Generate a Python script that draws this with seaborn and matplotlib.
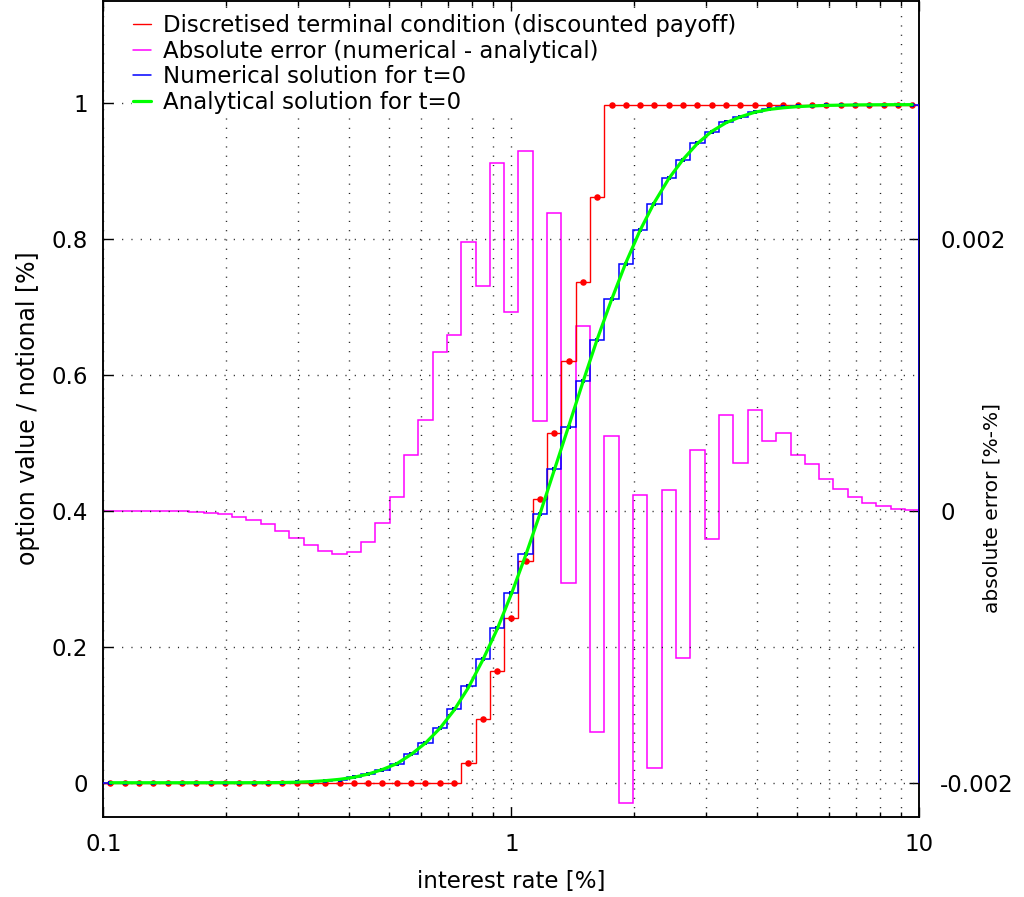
import matplotlib
matplotlib.use("Agg")
import numpy as np
import matplotlib.pyplot as plt
import matplotlib.ticker as mticker
import seaborn as sns

# grid of interest rates [%] (cell centres, log spaced)
rate = [0.1041, 0.1129, 0.1224, 0.1327, 0.1438, 0.1559, 0.1691, 0.1833, 0.1987, 0.2154,
        0.2336, 0.2532, 0.2745, 0.2976, 0.3227, 0.3498, 0.3793, 0.4112, 0.4458, 0.4833,
        0.5240, 0.5680, 0.6158, 0.6677, 0.7238, 0.7848, 0.8508, 0.9224, 1.0, 1.084,
        1.175, 1.274, 1.382, 1.498, 1.624, 1.760, 1.909, 2.069, 2.243, 2.432,
        2.637, 2.859, 3.099, 3.360, 3.643, 3.949, 4.282, 4.642, 5.033, 5.456,
        5.915, 6.413, 6.953, 7.538, 8.172, 8.860, 9.604]

# discretised terminal condition (discounted payoff)
payoff = [0.0] * 25 + [0.029, 0.094, 0.165, 0.242, 0.326, 0.417, 0.515, 0.621, 0.737, 0.862] + [0.9975] * 22

# numerical solution for t=0
numerical = [0.0] * 8 + [
    0.00001, 0.00002, 0.00005, 0.0001, 0.0002, 0.0006, 0.0014, 0.0027, 0.0047, 0.0077,
    0.0125, 0.0194, 0.028, 0.042, 0.059, 0.081, 0.108, 0.142, 0.182, 0.228,
    0.279, 0.337, 0.396, 0.462, 0.524, 0.591, 0.651, 0.711, 0.763, 0.813,
    0.852, 0.889, 0.916, 0.941, 0.958, 0.9716, 0.980, 0.987, 0.991, 0.9935,
    0.995, 0.996, 0.9966, 0.997, 0.9972, 0.9973, 0.9974, 0.9975, 0.9975]

# analytical solution for t=0
analytical = [0.0] * 8 + [
    0.00001, 0.00003, 0.00006, 0.0001, 0.0003, 0.0008, 0.0016, 0.003, 0.005, 0.008,
    0.0127, 0.0195, 0.028, 0.0416, 0.0583, 0.0798, 0.1067, 0.140, 0.1803, 0.2254,
    0.2775, 0.3344, 0.3953, 0.4598, 0.5245, 0.5896, 0.6526, 0.7105, 0.7651, 0.8129,
    0.8539, 0.8888, 0.9171, 0.9405, 0.9582, 0.9709, 0.9796, 0.9863, 0.9905, 0.9929,
    0.9946, 0.9956, 0.9964, 0.9968, 0.9971, 0.9973, 0.9974, 0.9975, 0.9975]

# absolute error (numerical - analytical) [%-%]
abs_error = [0.0, -0.000001, -0.000001, -0.000002, -0.000003, -0.000005, -0.00001, -0.000018,
             -0.000027, -0.000044, -0.000069, -0.0001, -0.000145, -0.000197, -0.00025, -0.000292,
             -0.000317, -0.0003, -0.000231, -0.000091, 0.000098, 0.000412, 0.000667, 0.00117,
             0.00129, 0.00198, 0.00165, 0.00256, 0.00146, 0.00265, 0.00066, 0.00219,
             -0.000534, 0.00136, -0.00163, 0.000548, -0.00215, 0.000116, -0.00189, 0.000151,
             -0.00108, 0.00045, -0.00021, 0.000708, 0.000353, 0.000741, 0.00051, 0.000574,
             0.000407, 0.000348, 0.000233, 0.000164, 0.000103, 0.000061, 0.000032, 0.000015,
             0.000004]

sns.set_style("ticks")
plt.rcParams["font.family"] = ["DejaVu Sans"]
plt.rcParams["font.size"] = 16.5
plt.rcParams["axes.unicode_minus"] = False
for key in ("text.color", "axes.labelcolor", "xtick.color", "ytick.color", "axes.edgecolor"):
    plt.rcParams[key] = "black"

# histogram-step edges (gnuplot "histeps"): geometric midpoints between grid points
r = np.array(rate)
mids = np.sqrt(r[:-1] * r[1:])
edges = np.concatenate([[r[0] ** 2 / mids[0]], mids, [r[-1] ** 2 / mids[-1]]])

fig = plt.figure(figsize=(10.24, 8.97), dpi=100)
ax = fig.add_axes([0.1009, 0.0895, 0.7969, 0.9094])
ax2 = ax.twinx()
ax.set_zorder(2)
ax.patch.set_visible(False)
ax.set_axisbelow(True)

# error on the right axis
h_err = ax2.stairs(abs_error, edges, baseline=0, color="#ff00ff", lw=1.1,
                   label="Absolute error (numerical - analytical)")

# option values on the left axis
h_pay = ax.stairs(payoff, edges, baseline=0, color="#ff0000", lw=1.0,
                  label="Discretised terminal condition (discounted payoff)", zorder=3)
sns.scatterplot(x=rate, y=payoff, ax=ax, color="#ff0000", s=22, linewidth=0, zorder=3.5)
h_num = ax.stairs(numerical, edges, baseline=0, color="#0000ff", lw=1.1,
                  label="Numerical solution for t=0", zorder=4)
sns.scatterplot(x=rate, y=numerical, ax=ax, color="#0000cc", s=9, marker="s",
                linewidth=0, zorder=4.5)
sns.lineplot(x=rate, y=analytical, ax=ax, color="#00ff00", lw=2.3, sort=False,
             estimator=None, label="Analytical solution for t=0", zorder=5)

ax.set_xscale("log")
ax.set_xlim(0.1, 10)
ax.set_ylim(-0.05, 1.15)
ax2.set_ylim(-0.00225, 0.00375)

fmt = mticker.FuncFormatter(lambda v, _: f"{v:g}")
ax.xaxis.set_major_locator(mticker.LogLocator(base=10))
ax.xaxis.set_minor_locator(mticker.LogLocator(base=10, subs=np.arange(2, 10)))
ax.xaxis.set_major_formatter(fmt)
ax.xaxis.set_minor_formatter(mticker.NullFormatter())
ax.set_yticks([0, 0.2, 0.4, 0.6, 0.8, 1.0])
ax.yaxis.set_major_formatter(fmt)
ax2.set_yticks([-0.002, 0, 0.002])
ax2.yaxis.set_major_formatter(fmt)

ax.tick_params(axis="x", which="major", direction="in", length=7, width=1, top=True, pad=12)
ax.tick_params(axis="x", which="minor", direction="in", length=3.5, width=1, top=True)
ax.tick_params(axis="y", which="major", direction="in", length=7, width=1, right=False, pad=11)
ax2.tick_params(axis="y", direction="in", length=7, width=1, pad=15)

ax.grid(True, which="both", axis="x", color="#222222", lw=1.0, ls=(0, (0.8, 5.9)))
ax.grid(True, which="major", axis="y", color="#222222", lw=1.0, ls=(0, (0.8, 5.9)))

for a in (ax, ax2):
    for s in a.spines.values():
        s.set_color("black")
        s.set_linewidth(1.1)

ax.set_xlabel("interest rate [%]")
ax.xaxis.set_label_coords(0.5, -0.080)
ax.xaxis.label.set_va("center")
ax.set_ylabel("option value / notional [%]", fontsize=17)
ax.yaxis.set_label_coords(-0.092, 0.501)
ax.yaxis.label.set_va("center")
ax2.set_ylabel("absolute error [%-%]", rotation=90, fontsize=14.5)
ax2.yaxis.set_label_coords(1.089, 0.378)
ax2.yaxis.label.set_va("center")

# opaque key box: hides the grid behind it, data stays on top
h_ana = ax.get_lines()[-1]
leg = ax.legend([h_pay, h_err, h_num, h_ana],
                [h_pay.get_label(), h_err.get_label(), h_num.get_label(), h_ana.get_label()],
                loc="upper left", bbox_to_anchor=(0.035, 0.0, 0.93, 0.985), mode="expand",
                frameon=True, facecolor="white", edgecolor="none", framealpha=1.0,
                fancybox=False, borderpad=0.05, borderaxespad=0, handlelength=0.8,
                handletextpad=0.5, labelspacing=0.11, fontsize=16.5)
leg.set_zorder(1.5)

fig.savefig("out.png", dpi=100)
